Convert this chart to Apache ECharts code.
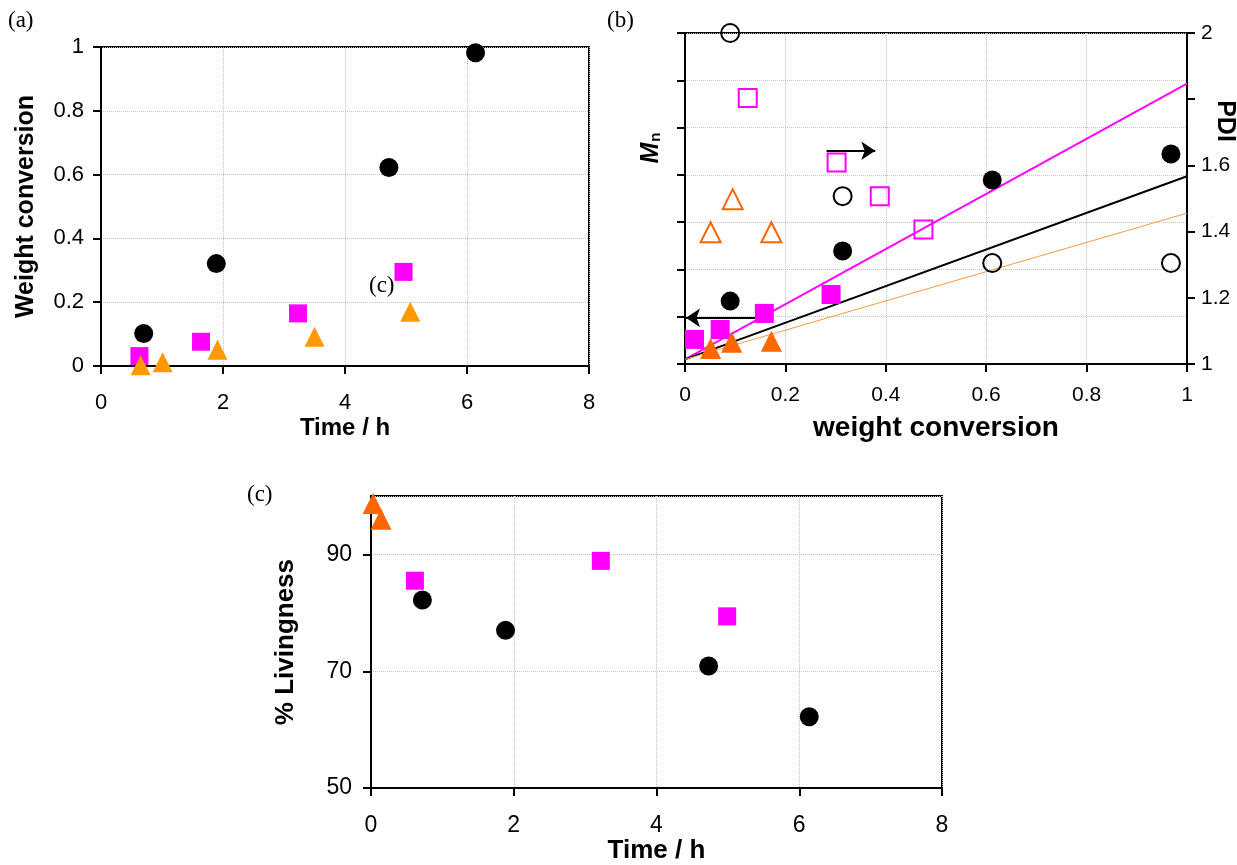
<!DOCTYPE html>
<html>
<head>
<meta charset="utf-8">
<script src="https://cdn.jsdelivr.net/npm/echarts@6/dist/echarts.min.js"></script>
<style>
html,body{margin:0;padding:0;background:#fff;}
#chart{width:1237px;height:865px;}
</style>
</head>
<body>
<div id="chart"></div>
<script>
// ---------- Panel (a): weight conversion vs time ----------
const aTimeBlack = [0.70, 1.89, 4.72, 6.14];
const aConvBlack = [0.102, 0.321, 0.622, 0.982];
const aTimeMag = [0.63, 1.64, 3.23, 4.96];
const aConvMag = [0.031, 0.076, 0.165, 0.295];
const aTimeOr = [0.65, 1.01, 1.91, 3.50, 5.07];
const aConvOr = [0.002, 0.012, 0.051, 0.092, 0.170];

// ---------- Panel (b): Mn (left) and PDI (right) vs weight conversion ----------
const bConvBlackF = [0.090, 0.314, 0.612, 0.968];
const bMnBlack = [13.3, 23.9, 38.9, 44.4];
const bConvMagF = [0.019, 0.070, 0.158, 0.291];
const bMnMag = [5.2, 7.3, 10.7, 14.7];
const bConvOrF = [0.051, 0.093, 0.172];
const bMnOr = [3.3, 4.6, 4.8];
const bConvBlackO = [0.090, 0.314, 0.612, 0.968];
const bPdiBlack = [2.0, 1.507, 1.305, 1.305];
const bConvMagO = [0.125, 0.302, 0.388, 0.475];
const bPdiMag = [1.804, 1.609, 1.507, 1.406];
const bConvOrO = [0.051, 0.095, 0.172];
const bPdiOr = [1.398, 1.498, 1.398];
const fitX = [0, 1];
const fitMag = [0.98, 59.3];
const fitBlack = [0.98, 39.7];
const fitOr = [0.98, 31.9];
const arrowRight = [[0.282, 45.1], [0.379, 45.1]];
const arrowLeft = [[0.141, 9.76], [0.002, 9.76]];

// ---------- Panel (c): % livingness vs time ----------
const cTimeBlack = [0.72, 1.885, 4.73, 6.14];
const cLivBlack = [82.2, 77.0, 70.9, 62.2];
const cTimeMag = [0.615, 3.22, 4.99];
const cLivMag = [85.5, 88.9, 79.4];
const cTimeOr = [0.03, 0.14];
const cLivOr = [98.7, 96.0];

const zip = (xs, ys) => xs.map((x, i) => [x, ys[i]]);

const FONT = "'Liberation Sans', Arial, sans-serif";
const SERIF = "'Liberation Serif', 'Times New Roman', serif";
const BLACK = '#000000';
const MAG = '#FF00FF';
const OR_A = '#FF9900';
const OR_B = '#FF6600';
const gridLine = { show: true, lineStyle: { color: '#c4c4c4', width: 1, type: 'dotted' } };
const axLine = { show: true, onZero: false, lineStyle: { color: '#000', width: 2 } };
const tick = { show: true, inside: false, length: 8, lineStyle: { color: '#000', width: 2 } };

const chart = echarts.init(document.getElementById('chart'), null, { renderer: 'canvas' });

function scatter(name, xi, yi, data, symbol, color, size, open) {
  return {
    name, type: 'scatter', xAxisIndex: xi, yAxisIndex: yi, data,
    symbol, symbolSize: size, clip: false, silent: true,
    itemStyle: open
      ? { color: 'rgba(0,0,0,0)', borderColor: color, borderWidth: 2, opacity: 1 }
      : { color: color, borderWidth: 0, opacity: 1 },
    z: 5
  };
}

function fitLine(name, yArr, color, width) {
  return {
    name, type: 'line', xAxisIndex: 1, yAxisIndex: 1,
    data: zip(fitX, yArr), showSymbol: false, symbol: 'none',
    lineStyle: { color, width, opacity: 1 }, silent: true, z: 3
  };
}

const option = {
  animation: false,
  backgroundColor: '#ffffff',
  textStyle: { fontFamily: FONT },
  grid: [
    { left: 101, top: 47, width: 488, height: 319, show: true, borderColor: '#000', borderWidth: 2, backgroundColor: 'transparent' },
    { left: 685, top: 33, width: 502, height: 331, show: true, borderColor: '#000', borderWidth: 2, backgroundColor: 'transparent' },
    { left: 371, top: 496, width: 571, height: 299, show: true, borderColor: '#000', borderWidth: 2, backgroundColor: 'transparent' }
  ],
  xAxis: [
    {
      gridIndex: 0, type: 'value', min: 0, max: 8, interval: 2,
      name: 'Time / h', nameLocation: 'middle', nameGap: 50,
      nameTextStyle: { fontFamily: FONT, fontWeight: 'bold', fontSize: 24, color: '#000' },
      axisLine: axLine, axisTick: tick, splitLine: gridLine,
      axisLabel: { fontFamily: FONT, fontSize: 22, color: '#000', margin: 26 }
    },
    {
      gridIndex: 1, type: 'value', min: 0, max: 1, interval: 0.2,
      name: 'weight conversion', nameLocation: 'middle', nameGap: 50,
      nameTextStyle: { fontFamily: FONT, fontWeight: 'bold', fontSize: 28, color: '#000' },
      axisLine: axLine, axisTick: tick, splitLine: gridLine,
      axisLabel: { fontFamily: FONT, fontSize: 21, color: '#000', margin: 21 }
    },
    {
      gridIndex: 2, type: 'value', min: 0, max: 8, interval: 2,
      name: 'Time / h', nameLocation: 'middle', nameGap: 45,
      nameTextStyle: { fontFamily: FONT, fontWeight: 'bold', fontSize: 26, color: '#000' },
      axisLine: axLine, axisTick: tick, splitLine: gridLine,
      axisLabel: { fontFamily: FONT, fontSize: 23, color: '#000', margin: 26 }
    }
  ],
  yAxis: [
    {
      gridIndex: 0, type: 'value', min: 0, max: 1, interval: 0.2,
      name: 'Weight conversion', nameLocation: 'middle', nameGap: 62,
      nameTextStyle: { fontFamily: FONT, fontWeight: 'bold', fontSize: 25, color: '#000' },
      axisLine: axLine, axisTick: tick, splitLine: gridLine,
      axisLabel: { fontFamily: FONT, fontSize: 22, color: '#000', margin: 17 }
    },
    {
      gridIndex: 1, type: 'value', min: 0, max: 70, interval: 10, position: 'left',
      axisLine: axLine, axisTick: tick, splitLine: gridLine,
      axisLabel: { show: false }
    },
    {
      gridIndex: 1, type: 'value', min: 1, max: 2, interval: 0.2, position: 'right',
      axisLine: axLine, axisTick: tick, splitLine: { show: false },
      axisLabel: {
        fontFamily: FONT, fontSize: 21, color: '#000', margin: 14,
        formatter: v => (Math.abs(v - 1.8) < 1e-6 ? '' : String(+v.toFixed(1)))
      }
    },
    {
      gridIndex: 2, type: 'value', min: 50, max: 100, interval: 20,
      name: '% Livingness', nameLocation: 'middle', nameGap: 72,
      nameTextStyle: { fontFamily: FONT, fontWeight: 'bold', fontSize: 26, color: '#000' },
      axisLine: axLine, axisTick: tick, splitLine: gridLine,
      axisLabel: { fontFamily: FONT, fontSize: 23, color: '#000', margin: 19, showMaxLabel: false }
    }
  ],
  series: [
    // (a)
    scatter('a-black', 0, 0, zip(aTimeBlack, aConvBlack), 'circle', BLACK, 19, false),
    scatter('a-mag', 0, 0, zip(aTimeMag, aConvMag), 'rect', MAG, 18, false),
    scatter('a-or', 0, 0, zip(aTimeOr, aConvOr), 'triangle', OR_A, 20, false),
    // (b) fitted lines
    fitLine('fit-mag', fitMag, MAG, 2),
    fitLine('fit-black', fitBlack, BLACK, 2),
    fitLine('fit-or', fitOr, '#FF9944', 1),
    // (b) Mn (filled)
    Object.assign(scatter('b-mn-black', 1, 1, zip(bConvBlackF, bMnBlack), 'circle', BLACK, 19, false), {
      markLine: {
        silent: true, symbol: ['none', 'arrow'], symbolSize: [14, 14],
        label: { show: false },
        lineStyle: { color: '#000', width: 2, type: 'solid', opacity: 1 },
        data: [
          [{ coord: arrowRight[0] }, { coord: arrowRight[1] }],
          [{ coord: arrowLeft[0] }, { coord: arrowLeft[1] }]
        ]
      }
    }),
    scatter('b-mn-mag', 1, 1, zip(bConvMagF, bMnMag), 'rect', MAG, 19, false),
    scatter('b-mn-or', 1, 1, zip(bConvOrF, bMnOr), 'triangle', OR_B, 21, false),
    // (b) PDI (open)
    scatter('b-pdi-black', 1, 2, zip(bConvBlackO, bPdiBlack), 'circle', BLACK, 18, true),
    scatter('b-pdi-mag', 1, 2, zip(bConvMagO, bPdiMag), 'rect', MAG, 18, true),
    scatter('b-pdi-or', 1, 2, zip(bConvOrO, bPdiOr), 'triangle', OR_B, 20, true),
    // (c)
    scatter('c-black', 2, 3, zip(cTimeBlack, cLivBlack), 'circle', BLACK, 19, false),
    scatter('c-mag', 2, 3, zip(cTimeMag, cLivMag), 'rect', MAG, 18, false),
    scatter('c-or', 2, 3, zip(cTimeOr, cLivOr), 'triangle', OR_B, 21, false)
  ],
  graphic: [
    { type: 'text', left: 8, top: 9, style: { text: '(a)', font: "23px " + SERIF, fill: '#000' } },
    { type: 'text', left: 607, top: 9, style: { text: '(b)', font: "23px " + SERIF, fill: '#000' } },
    { type: 'text', left: 247, top: 483, style: { text: '(c)', font: "23px " + SERIF, fill: '#000' } },
    { type: 'text', left: 369, top: 274, style: { text: '(c)', font: "23px " + SERIF, fill: '#000' } },
    {
      type: 'text', x: 651, y: 148, rotation: Math.PI / 2,
      style: {
        text: '{m|M}{s|n}', align: 'center', verticalAlign: 'middle',
        rich: {
          m: { fontFamily: FONT, fontWeight: 'bold', fontStyle: 'italic', fontSize: 25, fill: '#000', color: '#000' },
          s: { fontFamily: FONT, fontWeight: 'bold', fontSize: 15, fill: '#000', color: '#000', padding: [10, 0, 0, 1] }
        }
      }
    },
    {
      type: 'text', x: 1225, y: 121, rotation: -Math.PI / 2,
      style: { text: 'PDI', align: 'center', verticalAlign: 'middle', font: "bold 25px " + FONT, fill: '#000' }
    }
  ]
};

chart.setOption(option);
</script>
</body>
</html>
